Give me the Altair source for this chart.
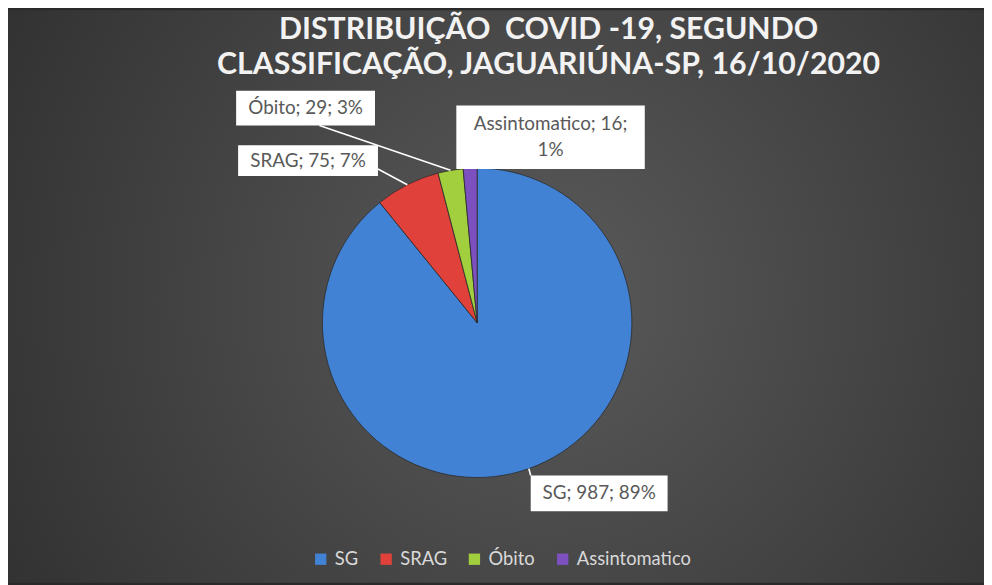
import altair as alt
import pandas as pd
import numpy as np

# ---- data ----
categories = ["SG", "SRAG", "Óbito", "Assintomatico"]
counts = [987, 75, 29, 16]
colors = ["#4282D4", "#E0413A", "#A2CF3E", "#7D50C0"]

title_lines = ["DISTRIBUIÇÃO\u00a0 COVID -19, SEGUNDO", "CLASSIFICAÇÃO, JAGUARIÚNA-SP, 16/10/2020"]

# ---- layout (pixels, chart coordinates) ----
W, H = 984, 577
CX, CY, R = 473, 315, 156
LINE_H = 26
# label box centre offsets from pie centre, box half sizes, leader end offsets (None = no leader)
label_dx = [123, -170.5, -173, 74]
label_dy = [172, -163.5, -216.5, -187]
box_hw = [69, 70.5, 70, 95]
box_hh = [18, 15.5, 17.5, 32]
lead_dx = [54, -100, -159, None]
lead_dy = [154, -155, -199, None]

total = sum(counts)
pct = [round(100 * v / total) for v in counts]
cum = np.cumsum([0] + counts)
mid = [(cum[i] + counts[i] / 2) / total * 2 * np.pi for i in range(len(counts))]

texts = []
for c, v, p in zip(categories, counts, pct):
    t = f"{c}; {v}; {p}%"
    if c == "Assintomatico":
        t = f"{c}; {v};\n{p}%"
    texts.append(t)

df = pd.DataFrame({"cat": categories, "value": counts, "idx": range(len(counts))})

lab = pd.DataFrame({
    "cat": categories,
    "text": texts,
    "x": [CX + d for d in label_dx],
    "y": [CY + d for d in label_dy],
})
lab["x0"] = lab["x"] - pd.Series(box_hw)
lab["x1"] = lab["x"] + pd.Series(box_hw)
lab["y0"] = lab["y"] - pd.Series(box_hh)
lab["y1"] = lab["y"] + pd.Series(box_hh)
nlines = lab["text"].str.count("\n") + 1
lab["ty"] = lab["y"] - (nlines - 1) * LINE_H / 2

lead_rows = []
for i in range(len(categories)):
    if lead_dx[i] is None:
        continue
    lead_rows.append({
        "x": CX + R * np.sin(mid[i]),
        "y": CY - R * np.cos(mid[i]),
        "xe": CX + lead_dx[i],
        "ye": CY + lead_dy[i],
    })
lead = pd.DataFrame(lead_rows)

xs = alt.Scale(domain=[0, W], range=[0, W], nice=False, zero=False)
ys = alt.Scale(domain=[0, H], range=[0, H], nice=False, zero=False)

bg_grad = alt.RadialGradient(
    gradient="radial", x1=0.55, y1=0.5, r1=0, x2=0.55, y2=0.5, r2=0.75,
    stops=[alt.GradientStop(offset=0, color="#5a5a5a"),
           alt.GradientStop(offset=1, color="#2a2a2a")],
)

bg = alt.Chart(pd.DataFrame({"a": [0]})).mark_rect(fill=bg_grad).encode(
    x=alt.value(0), x2=alt.value(W), y=alt.value(0), y2=alt.value(H)
)

pie = alt.Chart(df).mark_arc(radius=R, stroke="#2b2b2b", strokeWidth=0.8).encode(
    theta=alt.Theta("value:Q", stack=True),
    color=alt.Color(
        "cat:N",
        scale=alt.Scale(domain=categories, range=colors),
        sort=categories,
        legend=alt.Legend(
            orient="none", legendX=306, legendY=544, direction="horizontal",
            title=None, symbolType="square", symbolSize=130, symbolStrokeWidth=0,
            labelColor="#D9D9D9", labelFont="Lato", labelFontSize=18.5,
            columnPadding=18, labelOffset=5,
        ),
    ),
    order=alt.Order("idx:Q"),
    x=alt.value(CX), y=alt.value(CY),
)

leaders = alt.Chart(lead).mark_rule(color="#FFFFFF", strokeWidth=1.6).encode(
    x=alt.X("x:Q", scale=xs, axis=None), y=alt.Y("y:Q", scale=ys, axis=None),
    x2="xe:Q", y2="ye:Q",
)

boxes = alt.Chart(lab).mark_rect(fill="#FFFFFF").encode(
    x=alt.X("x0:Q", scale=xs, axis=None), x2="x1:Q",
    y=alt.Y("y0:Q", scale=ys, axis=None), y2="y1:Q",
)

labels = alt.Chart(lab).mark_text(
    font="Lato", fontSize=19, color="#595959", lineBreak="\n", lineHeight=LINE_H,
    align="center", baseline="middle",
).encode(
    x=alt.X("x:Q", scale=xs, axis=None), y=alt.Y("ty:Q", scale=ys, axis=None),
    text="text:N",
)

chart = alt.layer(bg, pie, leaders, boxes, labels).properties(
    width=W, height=H,
    autosize=alt.AutoSizeParams(type="none"),
    padding=0,
    background="#2a2a2a",
    title=alt.TitleParams(
        text=title_lines, orient="top", anchor="middle", dx=53, dy=71, offset=0,
        font="Lato", fontSize=30.5, fontWeight="bold", color="#F2F2F2",
        lineHeight=36, baseline="top",
    ),
).configure_view(strokeWidth=0)

chart.save("out.html", embed_options={"renderer": "svg", "actions": False})
